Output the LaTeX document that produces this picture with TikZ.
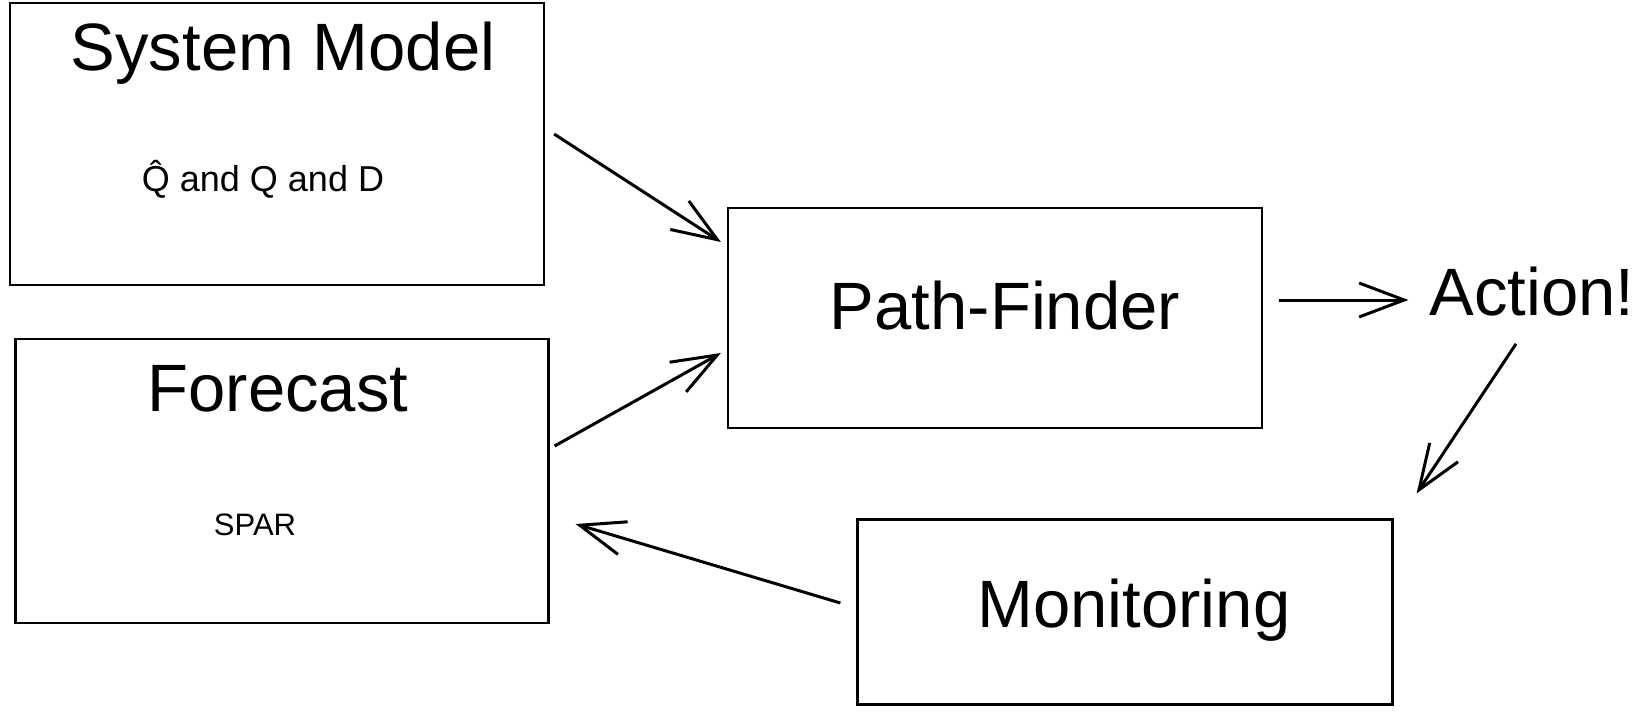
\documentclass[tikz,border=0pt]{standalone}
\usepackage{fontspec}
\setmainfont{Liberation Sans}
\usetikzlibrary{arrows.meta}

\begin{document}
\begin{tikzpicture}
[x=1pt,y=-1pt,
box/.style={draw,line width=2.2pt,inner sep=0pt},
title/.style={inner sep=0pt,anchor=base,font=\fontsize{67}{75}\selectfont},
small/.style={inner sep=0pt,anchor=base,font=\fontsize{31}{36}\selectfont},
arr/.style={line width=3pt,-{Straight Barb[length=45pt,width=34pt,line width=3pt]}}]

\useasboundingbox (0,0) rectangle (1644,714);

\node[box,minimum width=534pt,minimum height=282pt] (sm) at (277,144) {};
\node[box,minimum width=533pt,minimum height=284pt] (fc) at (282,481) {};
\node[box,minimum width=534pt,minimum height=220pt] (pf) at (995,318) {};
\node[box,minimum width=535pt,minimum height=185pt] (mon) at (1125,612) {};

\node[title] (smtitle) at (283,71) {System Model};
\node[small,font=\fontsize{36}{40}\selectfont] (smtext) at (263,192) {\accent"02C6 Q and Q and D};
\node[title] (fctitle) at (278,411) {Forecast};
\node[small] (fctext) at (255,535) {SPAR};
\node[title] (pftitle) at (1005,329) {Path-Finder};
\node[title] (act) at (1532,315) {Action!};
\node[title] (montitle) at (1134,627) {Monitoring};

\draw[arr] ([xshift=9pt,yshift=10pt]sm.east) -- ([xshift=-6pt,yshift=76pt]pf.west);
\draw[arr] ([xshift=5pt,yshift=35pt]fc.east) -- ([xshift=-6pt,yshift=-35pt]pf.west);
\draw[arr] ([xshift=16pt,yshift=18pt]pf.east) -- ([xshift=-21pt,yshift=15pt]act.base west);
\draw[arr] ([xshift=-16pt,yshift=-28pt]act.south) -- ([xshift=23pt,yshift=25pt]mon.north east);
\draw[arr] ([xshift=-16pt,yshift=9pt]mon.west) -- ([xshift=26pt,yshift=-43pt]fc.east);
\end{tikzpicture}
\end{document}
